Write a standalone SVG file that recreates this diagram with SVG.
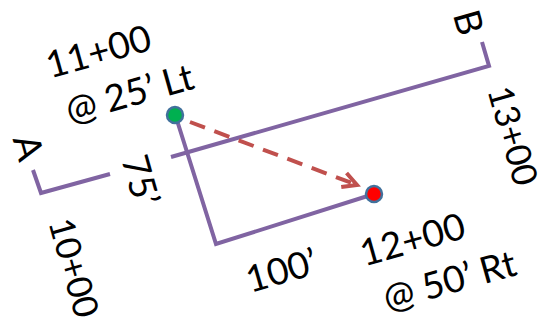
<svg xmlns="http://www.w3.org/2000/svg" width="548" height="324" viewBox="0 0 548 324">
<style>
.ln{fill:none;stroke:#8064A2;stroke-width:4;stroke-linecap:butt;stroke-linejoin:miter}
.dash{fill:none;stroke:#C0504D;stroke-width:4;stroke-dasharray:16 10}
.t{font-family:Lato,"Open Sans","Liberation Sans",sans-serif;font-size:37px;fill:#000;text-anchor:middle}
.s{font-size:35px}
.pt{stroke:#41719C;stroke-width:2.5}
</style>
<defs>
<marker id="arr" markerUnits="userSpaceOnUse" markerWidth="30" markerHeight="30" viewBox="-20 -15 30 30" refX="0" refY="0" orient="auto">
<path d="M-14,-7.5 L0,0 L-14,7.5" fill="none" stroke="#C0504D" stroke-width="4" stroke-linejoin="miter"/>
</marker>
</defs>
<g id="connectors">
<polyline class="ln" points="33,170 41,193 110,174"/>
<polyline class="ln" points="171,157 489,66 482,42"/>
<polyline class="ln" points="175,114 216,244 374,194"/>
<line class="dash" x1="190" y1="122" x2="357" y2="185" marker-end="url(#arr)"/>
</g>
<g id="end-A"><text class="t" transform="translate(16,151) rotate(74.3)">A</text></g>
<g id="end-B"><text class="t" transform="translate(456,26) rotate(74.3)">B</text></g>
<g id="sta-10"><text class="t s" transform="translate(62,271) rotate(74.3)">10+00</text></g>
<g id="sta-13"><text class="t s" transform="translate(501,139) rotate(74.3)">13+00</text></g>
<g id="dist-75"><text class="t" transform="translate(128,184) rotate(74.3)">75’</text></g>
<g id="dist-100"><text class="t" transform="translate(285,283) rotate(-16)">100’</text></g>
<g id="point-11">
<circle class="pt" cx="175" cy="115" r="8" fill="#00B050"/>
<text class="t" transform="translate(102,64) rotate(-15.7)">11+00</text>
<text class="t" transform="translate(133,106) rotate(-15.7)">@ 25’ Lt</text>
</g>
<g id="point-12">
<circle class="pt" cx="374" cy="194" r="8" fill="#FF0000"/>
<text class="t" transform="translate(416,252) rotate(-15.7)">12+00</text>
<text class="t" transform="translate(453,293) rotate(-15.7)">@ 50’ Rt</text>
</g>
</svg>
